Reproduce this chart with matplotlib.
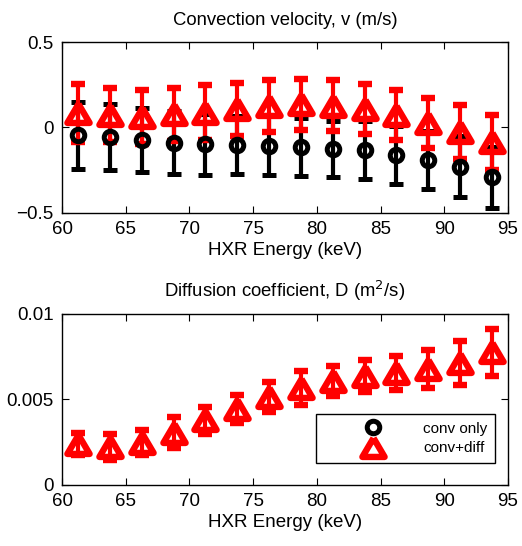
import matplotlib
matplotlib.use('Agg')
import matplotlib.pyplot as plt
from matplotlib.lines import Line2D
from matplotlib.markers import MarkerStyle

plt.rcParams['font.family'] = ['Liberation Sans', 'DejaVu Sans']
plt.rcParams['font.size'] = 13.5
plt.rcParams['axes.unicode_minus'] = True

# HXR energy bins (keV)
energy = [61.25, 63.75, 66.25, 68.75, 71.25, 73.75, 76.25,
          78.75, 81.25, 83.75, 86.25, 88.75, 91.25, 93.75]

# convection velocity, conv only model
v_conv = [-0.045, -0.057, -0.074, -0.088, -0.098, -0.102, -0.106,
          -0.112, -0.125, -0.131, -0.159, -0.190, -0.229, -0.292]
v_conv_err = [0.195, 0.192, 0.188, 0.185, 0.178, 0.170, 0.172,
              0.170, 0.163, 0.171, 0.169, 0.172, 0.177, 0.177]

# convection velocity, conv+diff model
v_cd = [0.085, 0.074, 0.061, 0.078, 0.087, 0.107, 0.125,
        0.135, 0.127, 0.106, 0.075, 0.028, -0.028, -0.086]
v_cd_err = [0.172, 0.156, 0.157, 0.155, 0.160, 0.154, 0.152,
            0.147, 0.149, 0.147, 0.147, 0.147, 0.157, 0.162]

# diffusion coefficient, conv+diff model
d_cd = [0.00240, 0.00222, 0.00247, 0.00305, 0.00378, 0.00443, 0.00514,
        0.00567, 0.00608, 0.00636, 0.00656, 0.00677, 0.00712, 0.00775]
d_cd_err = [0.00063, 0.00076, 0.00075, 0.00091, 0.00080, 0.00083, 0.00085,
            0.00099, 0.00088, 0.00095, 0.00100, 0.00112, 0.00127, 0.00137]

# wide matlab-style triangle with sharp corners
tri = MarkerStyle([(0, 0.85), (-1, -0.85), (1, -0.85), (0, 0.85)],
                  joinstyle='miter')

fig = plt.figure(figsize=(5.22, 5.46), dpi=100)
ax1 = fig.add_axes([0.119, 0.61, 0.854, 0.313])
ax2 = fig.add_axes([0.119, 0.112, 0.854, 0.313])

eb_kw = dict(linestyle='none', elinewidth=3.0, capsize=5.2, capthick=3.4,
             markerfacecolor='none')

ax1.errorbar(energy, v_conv, yerr=v_conv_err, marker='o', color='black',
             markersize=9, markeredgewidth=3.6, **eb_kw)
ax1.errorbar(energy, v_cd, yerr=v_cd_err, marker=tri, color='red',
             markersize=16, markeredgewidth=4.6, **eb_kw)
ax2.errorbar(energy, d_cd, yerr=d_cd_err, marker=tri, color='red',
             markersize=16, markeredgewidth=4.6, **eb_kw)

ax1.set_ylim(-0.5, 0.5)
ax1.set_yticks([-0.5, 0, 0.5])
ax1.set_yticklabels(['\u22120.5', '0', '0.5'])
ax1.set_title('Convection velocity, v (m/s)', fontsize=13.3, pad=12)

ax2.set_ylim(0, 0.01)
ax2.set_yticks([0, 0.005, 0.01])
ax2.set_yticklabels(['0', '0.005', '0.01'])
ax2.set_title('Diffusion coefficient, D (m$^2$/s)', fontsize=13.3, pad=12)

for ax in (ax1, ax2):
    ax.set_xlim(60, 95)
    ax.set_xticks(range(60, 96, 5))
    ax.set_xlabel('HXR Energy (keV)', labelpad=3)
    ax.tick_params(direction='in', top=True, right=True, length=5,
                   width=0.8, labelsize=13.5, pad=6)
    for s in ax.spines.values():
        s.set_linewidth(1.0)

handles = [
    Line2D([], [], linestyle='none', marker='o', color='black',
           markerfacecolor='none', markersize=9, markeredgewidth=3.6),
    Line2D([], [], linestyle='none', marker=tri, color='red',
           markerfacecolor='none', markersize=16, markeredgewidth=4.6),
]
leg = ax2.legend(handles, ['conv only', 'conv+diff'], loc='lower right',
                 bbox_to_anchor=(0.971, 0.129), fontsize=11, frameon=True,
                 fancybox=False, edgecolor='black', framealpha=1,
                 handlelength=6.4, handletextpad=0.1, borderpad=0.5,
                 labelspacing=0.35, borderaxespad=0)
leg.get_frame().set_linewidth(1.0)

fig.savefig('out.png', dpi=100)
